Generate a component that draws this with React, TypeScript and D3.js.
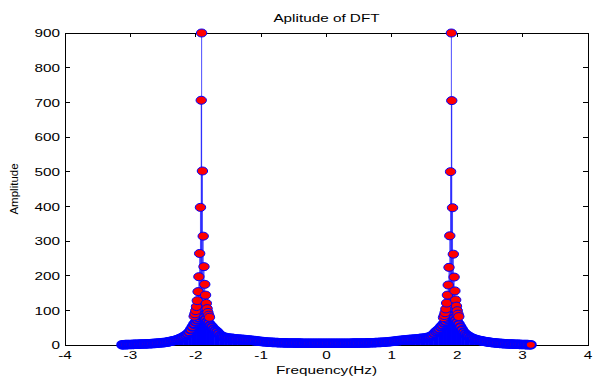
import * as d3 from 'd3'

const WIDTH = 593
const HEIGHT = 378
const MARGIN = {top: 33, right: 5, bottom: 33, left: 65}
// the reference figure is stretched sideways, so text is too
const STRETCH = 1.33
const FONT = 'Liberation Sans, Arial, Helvetica, sans-serif'

const xTicks = [-4, -3, -2, -1, 0, 1, 2, 3, 4]
const yTicks = [0, 100, 200, 300, 400, 500, 600, 700, 800, 900]

// low-level DFT bins, every 0.025 Hz from -3.125 to 3.125
const FLOOR_START = -3.125
const FLOOR_STEP = 0.025
const floorAmps = [
  0.5, 0.8, 1, 1.1, 1.3, 1.5, 1.6, 1.8, 2, 2.1,
  2.3, 2.5, 2.7, 2.9, 3.1, 3.3, 3.5, 3.8, 4, 4.3,
  4.6, 5, 5.4, 5.8, 6.3, 6.8, 7.4, 8.1, 8.9, 9.8,
  11, 12, 13, 14.5, 16, 18, 20, 22, 25, 28,
  32, 37, 44, 52, 60, 66, 72, 78, 84, 86,
  80, 74, 68, 63, 57, 52, 46, 42, 38, 33,
  28, 25, 23, 22, 21, 20, 19.5, 19, 18.5, 18,
  17.5, 17, 16.6, 16.2, 15.8, 15.4, 15, 14.5, 14, 13.5,
  13, 12.5, 12, 11.3, 10.7, 10.2, 9.7, 9.2, 8.8, 8.4,
  8.1, 7.8, 7.5, 7.3, 7.1, 6.9, 6.7, 6.5, 6.3, 6.1,
  6, 5.9, 5.8, 5.7, 5.6, 5.5, 5.4, 5.4, 5.3, 5.3,
  5.2, 5.2, 5.1, 5.1, 5.1, 5, 5, 5, 5, 5,
  5, 5, 5, 5, 5, 5,
  4.9, 5, 5, 5.1, 5, 5, 5.1, 5, 5, 5.1,
  5.1, 5.1, 5.1, 5.2, 5.2, 5.3, 5.3, 5.4, 5.4, 5.5,
  5.6, 5.7, 5.8, 5.9, 6, 6.1, 6.3, 6.5, 6.7, 6.9,
  7.1, 7.3, 7.5, 7.8, 8.1, 8.4, 8.8, 9.2, 9.7, 10.2,
  10.7, 11.3, 12, 12.5, 13, 13.5, 14, 14.5, 15, 15.4,
  15.8, 16.2, 16.6, 17, 17.5, 18, 18.5, 19, 19.5, 20,
  21, 22, 23, 25, 28, 33, 38, 42, 46, 52,
  57, 63, 68, 74, 80, 86, 84, 78, 72, 66,
  60, 52, 44, 37, 32, 28, 25, 22, 20, 18,
  16.5, 15, 13.8, 12.8, 11.8, 10.8, 9.9, 9.1, 8.4, 7.8,
  7.2, 6.6, 6.1, 5.6, 5.1, 4.7, 4.3, 4, 3.7, 3.4,
  3.1, 2.9, 2.7, 2.5, 2.3, 2.1, 2, 1.8, 1.6, 1.5,
  1.3, 1.1, 1, 0.8, 0.5,
]

// the two sharp peaks, bins listed by offset from the peak frequency
const peakFreqs = [-1.91, 1.91]
const leftOffsets = [0, -0.006, 0.012, -0.018, 0.024, -0.03, 0.036, -0.042, 0.048, -0.054, 0.06, -0.066, 0.072, -0.078, 0.084, -0.09, 0.096, -0.102, 0.108, -0.114, 0.12]
const leftAmps = [900, 706, 502, 397, 314, 264, 226, 197, 175, 154, 144, 128, 120, 111, 105, 99, 94, 90, 86, 83, 80]
const rightOffsets = [0, 0.006, -0.012, 0.018, -0.024, 0.03, -0.036, 0.042, -0.048, 0.054, -0.06, 0.066, -0.072, 0.078, -0.084, 0.09, -0.096, 0.102, -0.108, 0.114, -0.12]
const rightAmps = [900, 705, 500, 396, 315, 262, 224, 196, 173, 156, 144, 130, 121, 112, 104, 99, 93, 89, 85, 82, 79]

type Bin = {f: number; a: number; peak: boolean}

const Label = ({x, y, anchor, children}: {x: number; y: number; anchor: string; children: string}) => (
  <text
    transform={`translate(${x},${y}) scale(${STRETCH},1)`}
    textAnchor={anchor}
    fontFamily={FONT}
    fontSize={11.5}
    fill="#000">
    {children}
  </text>
)

export default function App() {
  const boundsWidth = WIDTH - MARGIN.left - MARGIN.right
  const boundsHeight = HEIGHT - MARGIN.top - MARGIN.bottom

  const xScale = d3.scaleLinear().domain([-4, 4]).range([MARGIN.left, MARGIN.left + boundsWidth])
  const yScale = d3.scaleLinear().domain([0, 900]).range([MARGIN.top + boundsHeight, MARGIN.top])

  const bins: Bin[] = [
    ...floorAmps.map((a, i) => ({f: FLOOR_START + i * FLOOR_STEP, a, peak: false})),
    ...leftOffsets.map((o, i) => ({f: peakFreqs[0] + o, a: leftAmps[i], peak: true})),
    ...rightOffsets.map((o, i) => ({f: peakFreqs[1] + o, a: rightAmps[i], peak: true})),
  ].sort((p, q) => p.f - q.f)

  const floorBins = bins.filter(b => !b.peak)
  const peakBins = bins.filter(b => b.peak)

  const x0 = xScale(-4)
  const x1 = xScale(4)
  const yb = yScale(0)
  const yt = yScale(900)
  const midX = (x0 + x1) / 2

  return (
    <div style={{position: 'absolute', left: 0, top: 0}}>
      <svg width={WIDTH} height={HEIGHT} style={{display: 'block', background: '#fff'}}>
        {/* axes box with inward ticks */}
        <g stroke="#000" strokeWidth={1} shapeRendering="crispEdges" fill="none">
          <rect x={x0} y={yt} width={x1 - x0} height={yb - yt} />
          {xTicks.map(t => (
            <g key={'x' + t}>
              <line x1={xScale(t)} x2={xScale(t)} y1={yb} y2={yb - 4} />
              <line x1={xScale(t)} x2={xScale(t)} y1={yt} y2={yt + 4} />
            </g>
          ))}
          {yTicks.map(t => (
            <g key={'y' + t}>
              <line x1={x0} x2={x0 + 5} y1={yScale(t)} y2={yScale(t)} />
              <line x1={x1} x2={x1 - 5} y1={yScale(t)} y2={yScale(t)} />
            </g>
          ))}
        </g>

        {xTicks.map(t => (
          <Label key={'xl' + t} x={xScale(t)} y={yb + 14} anchor="middle">
            {String(t)}
          </Label>
        ))}
        {yTicks.map(t => (
          <Label key={'yl' + t} x={x0 - 5} y={yScale(t) + 4.2} anchor="end">
            {String(t)}
          </Label>
        ))}

        <Label x={midX} y={21.5} anchor="middle">
          Aplitude of DFT
        </Label>
        <Label x={midX} y={374} anchor="middle">
          Frequency(Hz)
        </Label>
        <text
          transform={`translate(17.5,${(yt + yb) / 2}) rotate(-90)`}
          textAnchor="middle"
          fontFamily={FONT}
          fontSize={11.5}
          fill="#000">
          Amplitude
        </text>

        {/* stems: the dense low bins read as a solid blue band */}
        <g stroke="#0000ff" strokeWidth={2.2}>
          {floorBins.map((b, i) => (
            <line key={i} x1={xScale(b.f)} x2={xScale(b.f)} y1={yb} y2={yScale(b.a)} />
          ))}
        </g>
        <g stroke="#0000ff" strokeWidth={1} strokeOpacity={0.7}>
          {peakBins.map((b, i) => (
            <line key={i} x1={xScale(b.f)} x2={xScale(b.f)} y1={yb} y2={yScale(b.a)} />
          ))}
        </g>

        {/* markers */}
        <g fill="#ff0000" stroke="#0000ff" strokeWidth={2}>
          {floorBins.map((b, i) => (
            <ellipse key={i} cx={xScale(b.f)} cy={yScale(b.a)} rx={5} ry={3.8} />
          ))}
        </g>
        <g fill="#ff0000" stroke="#0000ff" strokeWidth={1}>
          {peakBins.map((b, i) => (
            <ellipse key={i} cx={xScale(b.f)} cy={yScale(b.a)} rx={5.2} ry={4} />
          ))}
        </g>
      </svg>
    </div>
  )
}
